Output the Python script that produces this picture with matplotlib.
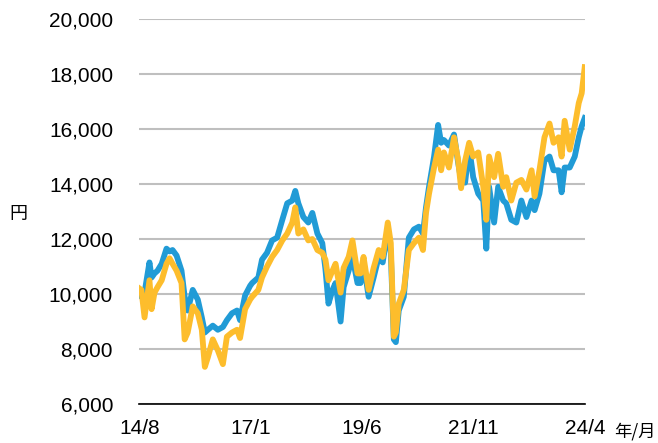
import pandas as pd
import matplotlib
matplotlib.use('Agg')
import matplotlib.pyplot as plt
from matplotlib.ticker import FuncFormatter

# sample dates
dates = ['2014-08-01','2014-08-16','2014-09-10','2014-10-19','2014-11-05','2014-11-28','2014-12-22',
         '2015-01-24','2015-03-03','2015-03-27','2015-04-20','2015-05-22','2015-06-30','2015-07-25',
         '2015-08-18','2015-09-27','2015-11-06','2015-12-08','2016-01-01','2016-01-25','2016-03-04',
         '2016-04-13','2016-05-23','2016-06-24','2016-08-03','2016-09-12','2016-10-06','2016-11-15',
         '2016-12-25','2017-01-10','2017-02-28','2017-03-29','2017-05-08','2017-06-17','2017-07-27',
         '2017-09-06','2017-10-15','2017-11-24','2017-12-18','2018-01-11','2018-02-20','2018-03-31',
         '2018-05-02','2018-06-11','2018-07-20','2018-08-14','2018-09-07','2018-10-09','2018-11-02',
         '2018-12-12','2019-01-05','2019-02-14','2019-03-16','2019-04-25','2019-05-19','2019-06-12',
         '2019-07-22','2019-08-31','2019-10-10','2019-11-11','2019-12-21','2020-01-14','2020-02-07',
         '2020-02-23','2020-03-17','2020-04-26','2020-06-05','2020-07-15','2020-08-24','2020-09-25',
         '2020-10-19','2020-11-12','2020-12-22','2021-01-23','2021-02-16','2021-03-10','2021-04-19',
         '2021-05-29','2021-06-30','2021-07-24','2021-08-25','2021-09-26','2021-10-28','2021-12-07',
         '2022-01-16','2022-02-09','2022-03-03','2022-04-12','2022-05-14','2022-06-23','2022-07-17',
         '2022-08-26','2022-10-05','2022-11-14','2022-12-24','2023-02-03','2023-02-27','2023-04-06',
         '2023-05-16','2023-06-25','2023-07-27','2023-09-05','2023-09-29','2023-10-23','2023-12-02',
         '2024-01-11','2024-02-12','2024-03-06','2024-03-30']

blue = [10000, 9900, 10050, 11150, 10600, 10750, 10850,
        11100, 11650, 11550, 11600, 11400, 10850, 9900,
        9400, 10150, 9800, 9150, 8600, 8700, 8850,
        8700, 8800, 9050, 9300, 9400, 9050, 9950,
        10300, 10400, 10600, 11250, 11500, 11950, 12050,
        12700, 13300, 13400, 13750, 13300, 12800, 12600,
        12950, 12200, 11850, 10900, 9650, 10150, 10400,
        9000, 10250, 10850, 11350, 10400, 10400, 11150,
        9900, 10600, 11350, 11150, 12350, 11500, 8350,
        8250, 9400, 9900, 12050, 12350, 12450, 12200,
        13150, 13900, 15000, 16150, 15500, 15600, 15400,
        15800, 14800, 14150, 14050, 15350, 14250, 13650,
        13400, 11650, 13900, 12600, 13900, 13400, 13300,
        12700, 12600, 13400, 12800, 13400, 13050, 13650,
        14850, 15000, 14500, 14500, 13700, 14600, 14600,
        15000, 15700, 16100, 16400]

gold = [10200, 10150, 9150, 10500, 9450, 10050, 10250,
        10500, 11100, 11300, 11100, 10850, 10400, 8350,
        8600, 9550, 9300, 8700, 7350, 7700, 8350,
        7950, 7450, 8450, 8600, 8700, 8400, 9450,
        9800, 9900, 10150, 10600, 11000, 11350, 11600,
        11950, 12200, 12600, 13150, 12200, 12350, 11950,
        12000, 11600, 11500, 11250, 10500, 10850, 11100,
        10050, 10950, 11350, 11950, 10750, 10750, 11350,
        10150, 10950, 11600, 11350, 12600, 11850, 8450,
        8600, 9650, 10150, 11600, 11850, 12050, 11600,
        12950, 13650, 14600, 15250, 14500, 15150, 14600,
        15700, 14900, 13850, 14850, 15500, 15000, 15150,
        13900, 12700, 15000, 14250, 15100, 13900, 14250,
        13400, 14050, 14150, 13800, 14500, 13550, 14500,
        15700, 16200, 15500, 15700, 15000, 16300, 15250,
        16100, 16950, 17300, 18250]

tick_dates = ['2014-08-01', '2017-01-01', '2019-06-01', '2021-11-01', '2024-04-01']
tick_labels = ['14/8', '17/1', '19/6', '21/11', '24/4']

df = pd.DataFrame({'date': pd.to_datetime(dates), 'blue': blue, 'gold': gold})

plt.rcParams['font.family'] = ['Liberation Sans', 'Noto Sans CJK JP']

fig = plt.figure(figsize=(6.58, 4.43), dpi=100)
ax = fig.add_axes([0.212, 0.088, 0.677, 0.869])

ax.plot(df['date'], df['blue'], color='#219bd6', linewidth=4.2, solid_joinstyle='round', zorder=3)
ax.plot(df['date'], df['gold'], color='#fdbd2c', linewidth=4.2, solid_joinstyle='round', zorder=4)

ax.set_ylim(6000, 20000)
ax.set_yticks(range(6000, 20001, 2000))
ax.yaxis.set_major_formatter(FuncFormatter(lambda v, p: '{:,.0f}'.format(v)))
ax.set_xlim(pd.Timestamp('2014-08-01'), pd.Timestamp('2024-04-01'))
ax.set_xticks(pd.to_datetime(tick_dates))
ax.set_xticklabels(tick_labels)

ax.grid(axis='y', color='#bfbfbf', linewidth=1.5)
ax.set_axisbelow(True)
for s in ['top', 'right', 'left']:
    ax.spines[s].set_visible(False)
ax.spines['bottom'].set_color('black')
ax.spines['bottom'].set_linewidth(1.2)
ax.spines['bottom'].set_zorder(5)
ax.tick_params(length=0, labelsize=15, colors='black')
ax.tick_params(axis='y', pad=19)
ax.tick_params(axis='x', pad=11)

fig.text(0.028, 0.518, '円', fontsize=13, family='Noto Sans CJK JP', ha='center', va='center')
fig.text(0.934, 0.027, '年/月', fontsize=12.5, family='Noto Sans CJK JP', ha='left', va='center')

fig.savefig('out.png', dpi=100)
